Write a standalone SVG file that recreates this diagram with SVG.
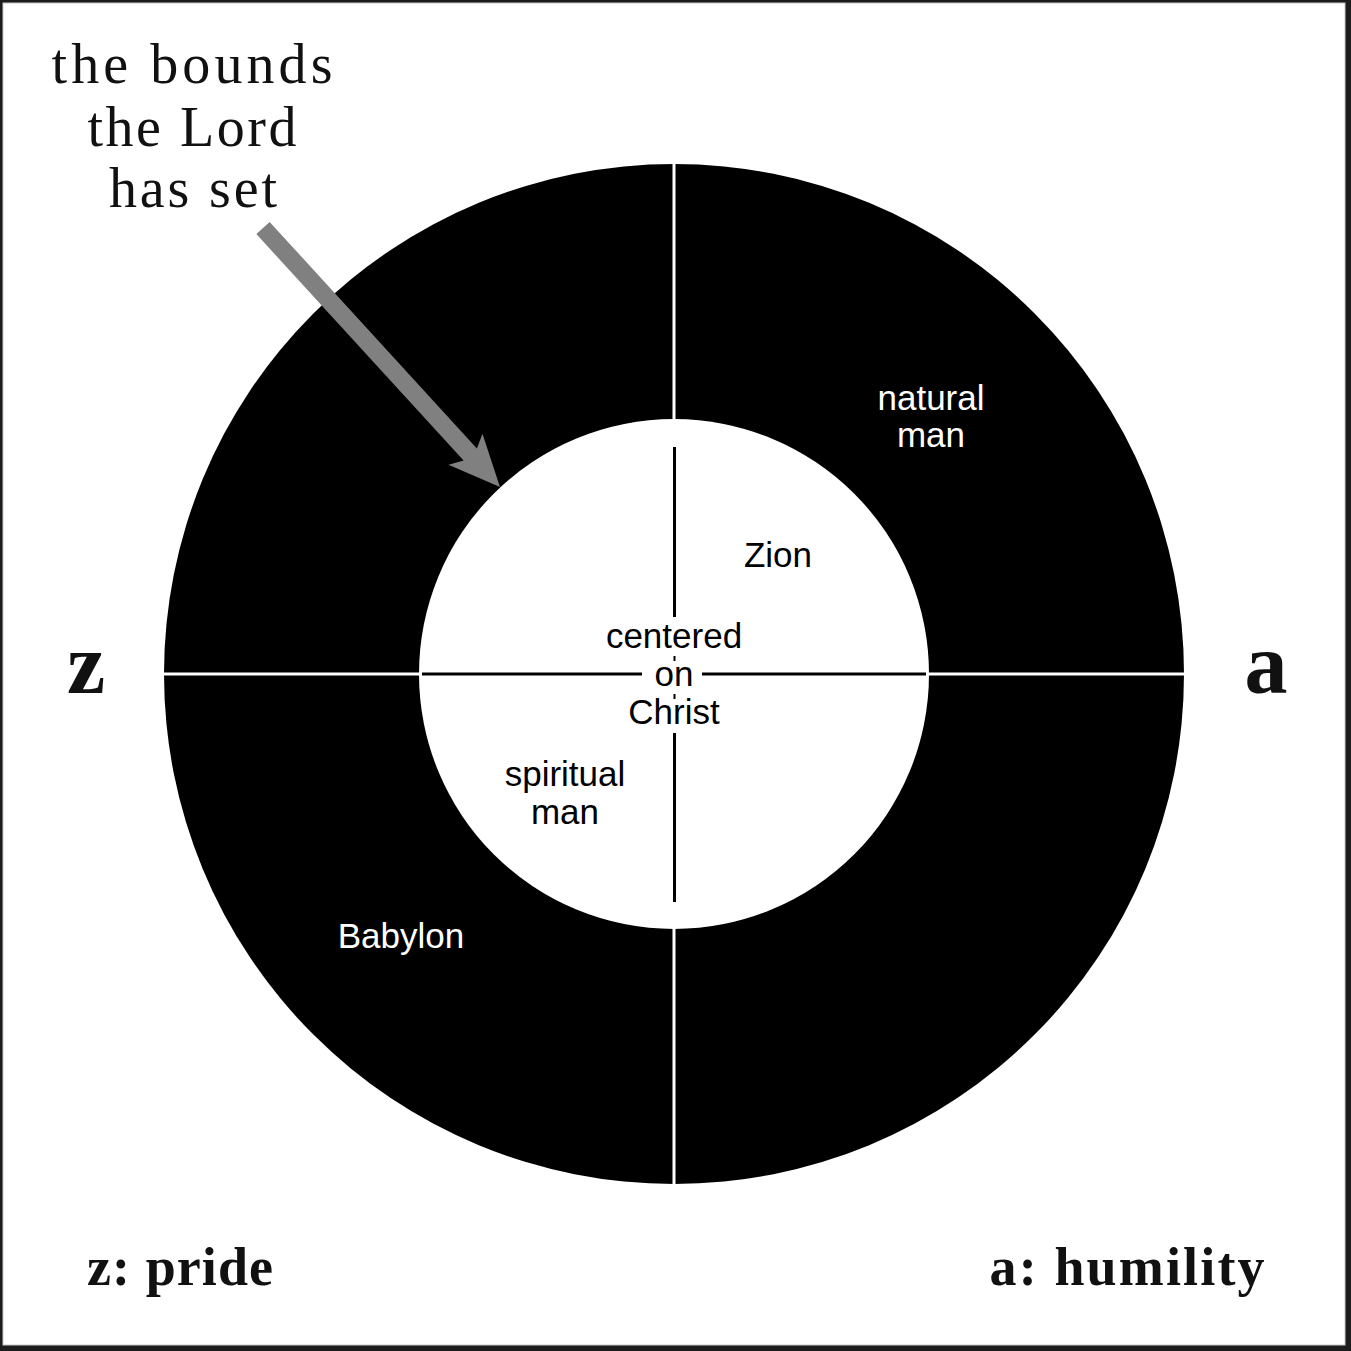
<svg xmlns="http://www.w3.org/2000/svg" width="1351" height="1351" viewBox="0 0 1351 1351">
<style>
.title{font-family:"Liberation Serif","DejaVu Serif",serif;font-size:56px;fill:#111;text-anchor:middle}
.big{font-family:"Liberation Serif","DejaVu Serif",serif;font-weight:bold;fill:#111;text-anchor:middle}
.lab{font-family:"Liberation Sans",Arial,sans-serif;font-size:35px;text-anchor:middle}
.w{fill:#fff}.k{fill:#000}
</style>
<rect x="0" y="0" width="1351" height="1351" fill="#1c1c1c"/>
<rect x="3" y="3" width="1342" height="1342" fill="#fff" stroke="#c8c8c8" stroke-width="1"/>
<g id="ring">
<circle cx="674" cy="674" r="510" fill="#000"/>
<circle cx="674" cy="674" r="255" fill="#fff"/>
</g>
<g id="connectors">
<line x1="674" y1="163" x2="674" y2="447" stroke="#fff" stroke-width="3"/>
<line x1="674" y1="902" x2="674" y2="1186" stroke="#fff" stroke-width="3"/>
<line x1="162" y1="674" x2="420" y2="674" stroke="#fff" stroke-width="3"/>
<line x1="928" y1="674" x2="1186" y2="674" stroke="#fff" stroke-width="3"/>
<line x1="674.5" y1="447" x2="674.5" y2="617" stroke="#000" stroke-width="3"/>
<line x1="674.5" y1="733" x2="674.5" y2="902" stroke="#000" stroke-width="3"/>
<line x1="674.5" y1="656" x2="674.5" y2="661" stroke="#000" stroke-width="2"/>
<line x1="674.5" y1="694" x2="674.5" y2="699" stroke="#000" stroke-width="2"/>
<line x1="422" y1="674" x2="642" y2="674" stroke="#000" stroke-width="3"/>
<line x1="702" y1="674" x2="926" y2="674" stroke="#000" stroke-width="3"/>
<g id="arrow" transform="translate(263,228) rotate(47.54)">
<polygon points="0,-9 307,-9 300,-23 351,0 300,23 307,9 0,9" fill="#808080"/>
</g>
</g>
<g id="title">
<text class="title" x="192" y="83" textLength="281" lengthAdjust="spacing">the bounds</text>
<text class="title" x="192" y="146" textLength="209" lengthAdjust="spacing">the Lord</text>
<text class="title" x="193" y="207" textLength="168" lengthAdjust="spacing">has set</text>
</g>
<g id="natural-man"><text class="lab w" x="931" y="410">natural</text><text class="lab w" x="931" y="447">man</text></g>
<g id="zion"><text class="lab k" x="778" y="567">Zion</text></g>
<g id="center"><text class="lab k" x="674" y="648">centered</text><text class="lab k" x="674" y="686">on</text><text class="lab k" x="674" y="724">Christ</text></g>
<g id="spiritual-man"><text class="lab k" x="565" y="786">spiritual</text><text class="lab k" x="565" y="824">man</text></g>
<g id="babylon"><text class="lab w" x="401" y="948">Babylon</text></g>
<g id="z"><text class="big" x="86" y="693" font-size="86">z</text></g>
<g id="a"><text class="big" x="1266" y="693" font-size="86">a</text></g>
<g id="legend">
<text class="big" x="180" y="1285" font-size="54" textLength="186" lengthAdjust="spacing">z: pride</text>
<text class="big" x="1127" y="1285" font-size="54" textLength="275" lengthAdjust="spacing">a: humility</text>
</g>
</svg>
